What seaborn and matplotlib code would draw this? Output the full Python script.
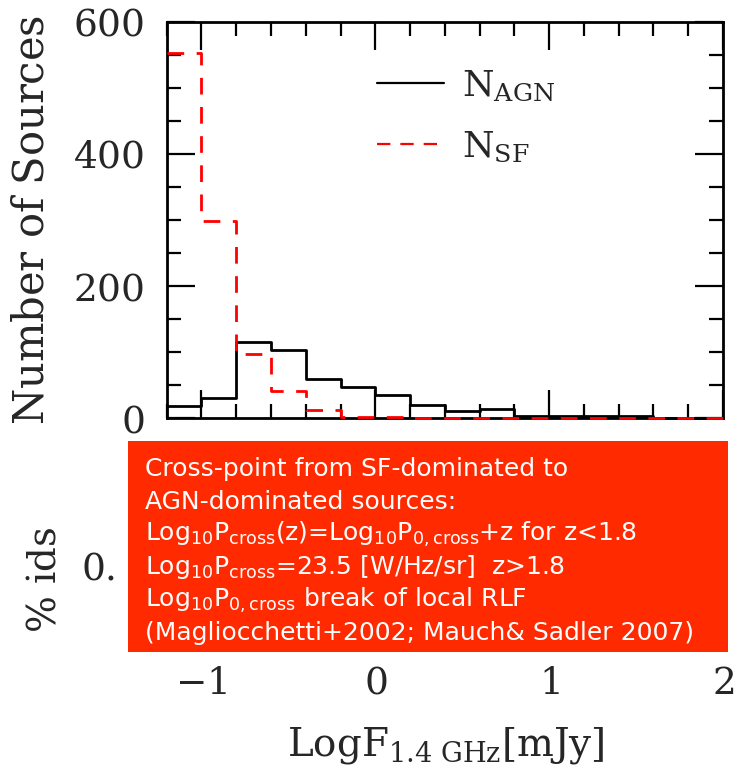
import numpy as np
import pandas as pd
import matplotlib
matplotlib.use("Agg")
import matplotlib.pyplot as plt
import seaborn as sns
from matplotlib.lines import Line2D
from matplotlib.patches import Rectangle
from matplotlib.ticker import MultipleLocator

# ---- data ----
bin_edges = [-1.2, -1.0, -0.8, -0.6, -0.4, -0.2, 0.0, 0.2, 0.4, 0.6, 0.8,
             1.0, 1.2, 1.4, 1.6, 1.8, 2.0]
bin_centers = [-1.1, -0.9, -0.7, -0.5, -0.3, -0.1, 0.1, 0.3, 0.5, 0.7, 0.9,
               1.1, 1.3, 1.5, 1.7, 1.9]
agn_counts = [19, 30, 116, 104, 60, 48, 36, 20, 11, 14, 4, 3, 4, 3, 1, 1]
sf_counts = [553, 299, 97, 41, 12, 2, 2, 0, 0, 0, 0, 0, 0, 0, 0, 0]
x_ticks = [-1, 0, 1, 2]
x_tick_labels = [r"$-1$", r"$0$", r"$1$", r"$2$"]
y_ticks = [0, 200, 400, 600]
y_tick_labels = [r"$0$", r"$200$", r"$400$", r"$600$"]
legend_labels = [r"$\mathrm{N}_{\mathrm{AGN}}$", r"$\mathrm{N}_{\mathrm{SF}}$"]
box_lines = [
    "Cross-point from SF-dominated to",
    "AGN-dominated sources:",
    r"Log$_{\mathrm{10}}$P$_{\mathrm{cross}}$(z)=Log$_{\mathrm{10}}$P$_{\mathrm{0,cross}}$+z for z<1.8",
    r"Log$_{\mathrm{10}}$P$_{\mathrm{cross}}$=23.5 [W/Hz/sr]  z>1.8",
    r"Log$_{\mathrm{10}}$P$_{\mathrm{0,cross}}$ break of local RLF",
    "(Magliocchetti+2002; Mauch& Sadler 2007)",
]

df = pd.DataFrame({"x": bin_centers, "agn": agn_counts, "sf": sf_counts})

sns.set_style("white")
plt.rcParams["mathtext.fontset"] = "dejavuserif"
plt.rcParams["font.family"] = ["DejaVu Serif"]

W, H = 740, 774
fig = plt.figure(figsize=(W / 100, H / 100), dpi=100)

def fx(px):
    return px / W

def fy(py):
    return 1 - py / H

TICK_FS = 27
LABEL_FS = 28

# top axes
ax = fig.add_axes([fx(166.7), fy(418.3), fx(723 - 166.7), (418.3 - 21.7) / H])
sns.histplot(data=df, x="x", weights="agn", bins=bin_edges, element="step",
             fill=False, color="black", linewidth=2.0, ax=ax)
sns.histplot(data=df, x="x", weights="sf", bins=bin_edges, element="step",
             fill=False, color="#ff0000", linewidth=2.0, linestyle=(0, (6, 4.5)),
             ax=ax)
for ln in ax.lines:
    ln.set_zorder(3)
    ln.set_clip_on(False)
ax.set_xlim(-1.2, 2.0)
ax.set_ylim(0, 600)
ax.set_xlabel("")
ax.set_ylabel("")
ax.set_xticks(x_ticks)
ax.set_yticks(y_ticks, labels=y_tick_labels)
ax.xaxis.set_minor_locator(MultipleLocator(0.2))
ax.yaxis.set_minor_locator(MultipleLocator(50))
ax.tick_params(which="both", direction="in", top=True, right=True,
               bottom=True, left=True, width=1.6, color="black")
ax.tick_params(which="major", length=20)
ax.tick_params(which="minor", length=10)
ax.tick_params(axis="x", labelbottom=False)
ax.tick_params(axis="y", labelsize=TICK_FS, pad=16)
for s in ax.spines.values():
    s.set_linewidth(2.0)
    s.set_color("black")

handles = [Line2D([], [], color="black", lw=1.6),
           Line2D([], [], color="#ff0000", lw=1.6, linestyle=(0, (6, 4.5)))]
ax.legend(handles, legend_labels, loc="upper left",
          bbox_to_anchor=((377 - 166.7) / 556.3, (418.3 - 68) / 396.6),
          frameon=False, fontsize=26, handlelength=1.85, handletextpad=0.5,
          labelspacing=0.75, borderpad=0, borderaxespad=0)

# bottom axes
ax2 = fig.add_axes([fx(166.7), fy(652), fx(723 - 166.7), (652 - 480) / H])
ax2.set_xlim(-1.2, 2.0)
ax2.set_ylim(-1, 1)
ax2.set_xticks(x_ticks, labels=x_tick_labels)
ax2.set_yticks([0], labels=[r"$0.$"])
ax2.tick_params(length=0, labelsize=TICK_FS)
ax2.tick_params(axis="x", pad=10)
ax2.tick_params(axis="y", pad=37)
for s in ax2.spines.values():
    s.set_visible(False)
ax2.patch.set_alpha(0)

# red annotation box
fig.patches.append(Rectangle((fx(127.7), fy(652)), fx(728 - 127.7), (652 - 440.7) / H,
                             transform=fig.transFigure, facecolor="#ff2a00",
                             edgecolor="none", zorder=5))
baselines = [476, 509, 541, 574, 607, 640]
for line, b in zip(box_lines, baselines):
    fig.text(fx(145), fy(b), line, color="white", fontsize=18,
             family="DejaVu Sans", math_fontfamily="dejavusans",
             ha="left", va="baseline", zorder=6)

# axis labels
fig.text(fx(31.5), fy(220), r"$\mathrm{Number\ of\ Sources}$", rotation=90,
         ha="center", va="center", fontsize=30)
fig.text(fx(45), fy(580), r"$\%\ \mathrm{ids}$", rotation=90,
         ha="center", va="center", fontsize=LABEL_FS)
fig.text(fx(446), fy(755), r"$\mathrm{LogF}_{\mathrm{1.4\ GHz}}[\mathrm{mJy}]$",
         ha="center", va="baseline", fontsize=LABEL_FS)

fig.savefig("out.png", dpi=100)
